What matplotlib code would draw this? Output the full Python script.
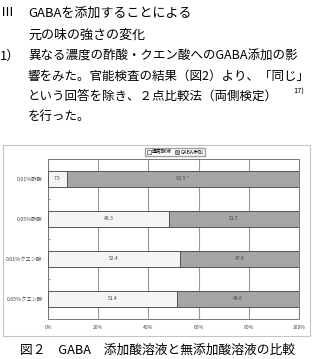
import matplotlib
matplotlib.use('Agg')
import matplotlib.pyplot as plt
from matplotlib.patches import Rectangle, Patch

plt.rcParams['font.family'] = ['Noto Sans CJK JP', 'DejaVu Sans']

# Chart data.
categories = ['0.01%酢酸', '0.05%酢酸', '0.01%クエン酸', '0.05%クエン酸']
normal_vals = [7.5, 48.3, 52.4, 51.4]
gaba_vals = [92.5, 51.7, 47.6, 48.6]
gaba_marks = ['*', '', '', '']
series_names = ['通常酸液', 'GABA添加']
x_ticks = [0, 20, 40, 60, 80, 100]
x_tick_labels = ['0%', '20%', '40%', '60%', '80%', '100%']

# Surrounding page text.
heading = ['Ⅲ', 'GABAを添加することによる', '元の味の強さの変化']
item_no = '1）'
body = ['異なる濃度の酢酸・クエン酸へのGABA添加の影',
        '響をみた。官能検査の結果（図2）より、「同じ」',
        'という回答を除き、２点比較法（両側検定）',
        'を行った。']
footnote = '17)'
caption = '図２　GABA　添加酸溶液と無添加酸溶液の比較'

W, H = 313, 359
fig = plt.figure(figsize=(W / 100, H / 100), dpi=100)


def fy(y):
    """Pixel row (from top) to figure fraction."""
    return 1 - y / H


def fx(x):
    return x / W


# Page text above the chart.
fs = 9.4
fig.text(fx(1), fy(13), heading[0], fontsize=fs, va='center')
fig.text(fx(28), fy(13), heading[1], fontsize=fs, va='center')
fig.text(fx(28), fy(35), heading[2], fontsize=fs, va='center')
fig.text(fx(0), fy(56), item_no, fontsize=fs, va='center')
fig.text(fx(28), fy(56), body[0], fontsize=9.0, va='center')
fig.text(fx(28), fy(76), body[1], fontsize=9.0, va='center')
fig.text(fx(28), fy(96), body[2], fontsize=9.0, va='center')
fig.text(fx(293), fy(92), footnote, fontsize=5.5, va='center')
fig.text(fx(28), fy(116), body[3], fontsize=9.0, va='center')

# Outer frame of the figure box.
fig.patches.append(Rectangle((fx(3), fy(336)), fx(307), (336 - 145) / H,
                             transform=fig.transFigure, fill=False,
                             edgecolor='#c4c4c4', linewidth=0.8))

ax = fig.add_axes([fx(48), fy(319), fx(251), 160 / H])

y = list(range(len(categories)))
bar_h = 0.4
ax.barh(y, normal_vals, height=bar_h, color='#f4f4f4',
        edgecolor='#555555', linewidth=0.7, zorder=3)
ax.barh(y, gaba_vals, left=normal_vals, height=bar_h, color='#a6a6a6',
        edgecolor='#555555', linewidth=0.7, zorder=3)

for i in y:
    ax.text(normal_vals[i] / 2, i, f'{normal_vals[i]:.1f}',
            fontsize=3.6, ha='center', va='center', color='#444444', zorder=4)
    label = f'{gaba_vals[i]:.1f}'
    if gaba_marks[i]:
        label += ' ' + gaba_marks[i]
    ax.text(normal_vals[i] + gaba_vals[i] / 2, i, label,
            fontsize=3.6, ha='center', va='center', color='#444444', zorder=4)

ax.set_xlim(0, 100)
ax.set_ylim(len(categories) - 0.5, -0.5)
ax.set_xticks(x_ticks)
ax.set_xticklabels(x_tick_labels, fontsize=3.6, color='#444444')
ax.set_yticks(y)
ax.set_yticklabels(categories, fontsize=3.8, color='#444444')
ax.set_yticks([i + 0.5 for i in y[:-1]], minor=True)
ax.tick_params(axis='both', which='major', length=0, pad=4)
ax.tick_params(axis='y', which='minor', length=1.5, width=0.5,
               color='#777777', direction='in')
ax.grid(axis='x', color='#9a9a9a', linewidth=0.8, zorder=0)
for s in ax.spines.values():
    s.set_color('#777777')
    s.set_linewidth(0.7)

handles = [Patch(facecolor='#f4f4f4', edgecolor='#555555', linewidth=0.5),
           Patch(facecolor='#a6a6a6', edgecolor='#555555', linewidth=0.5)]
fig.legend(handles, series_names, loc='center', ncol=2,
           bbox_to_anchor=(fx(175), fy(152)), fontsize=3.6,
           frameon=True, fancybox=False, edgecolor='#888888',
           handlelength=0.8, handleheight=0.8, handletextpad=0.3,
           columnspacing=0.6, borderpad=0.3, borderaxespad=0)

fig.text(fx(157), fy(350), caption, fontsize=9.2, ha='center', va='center')

fig.savefig('out.png', dpi=100)
